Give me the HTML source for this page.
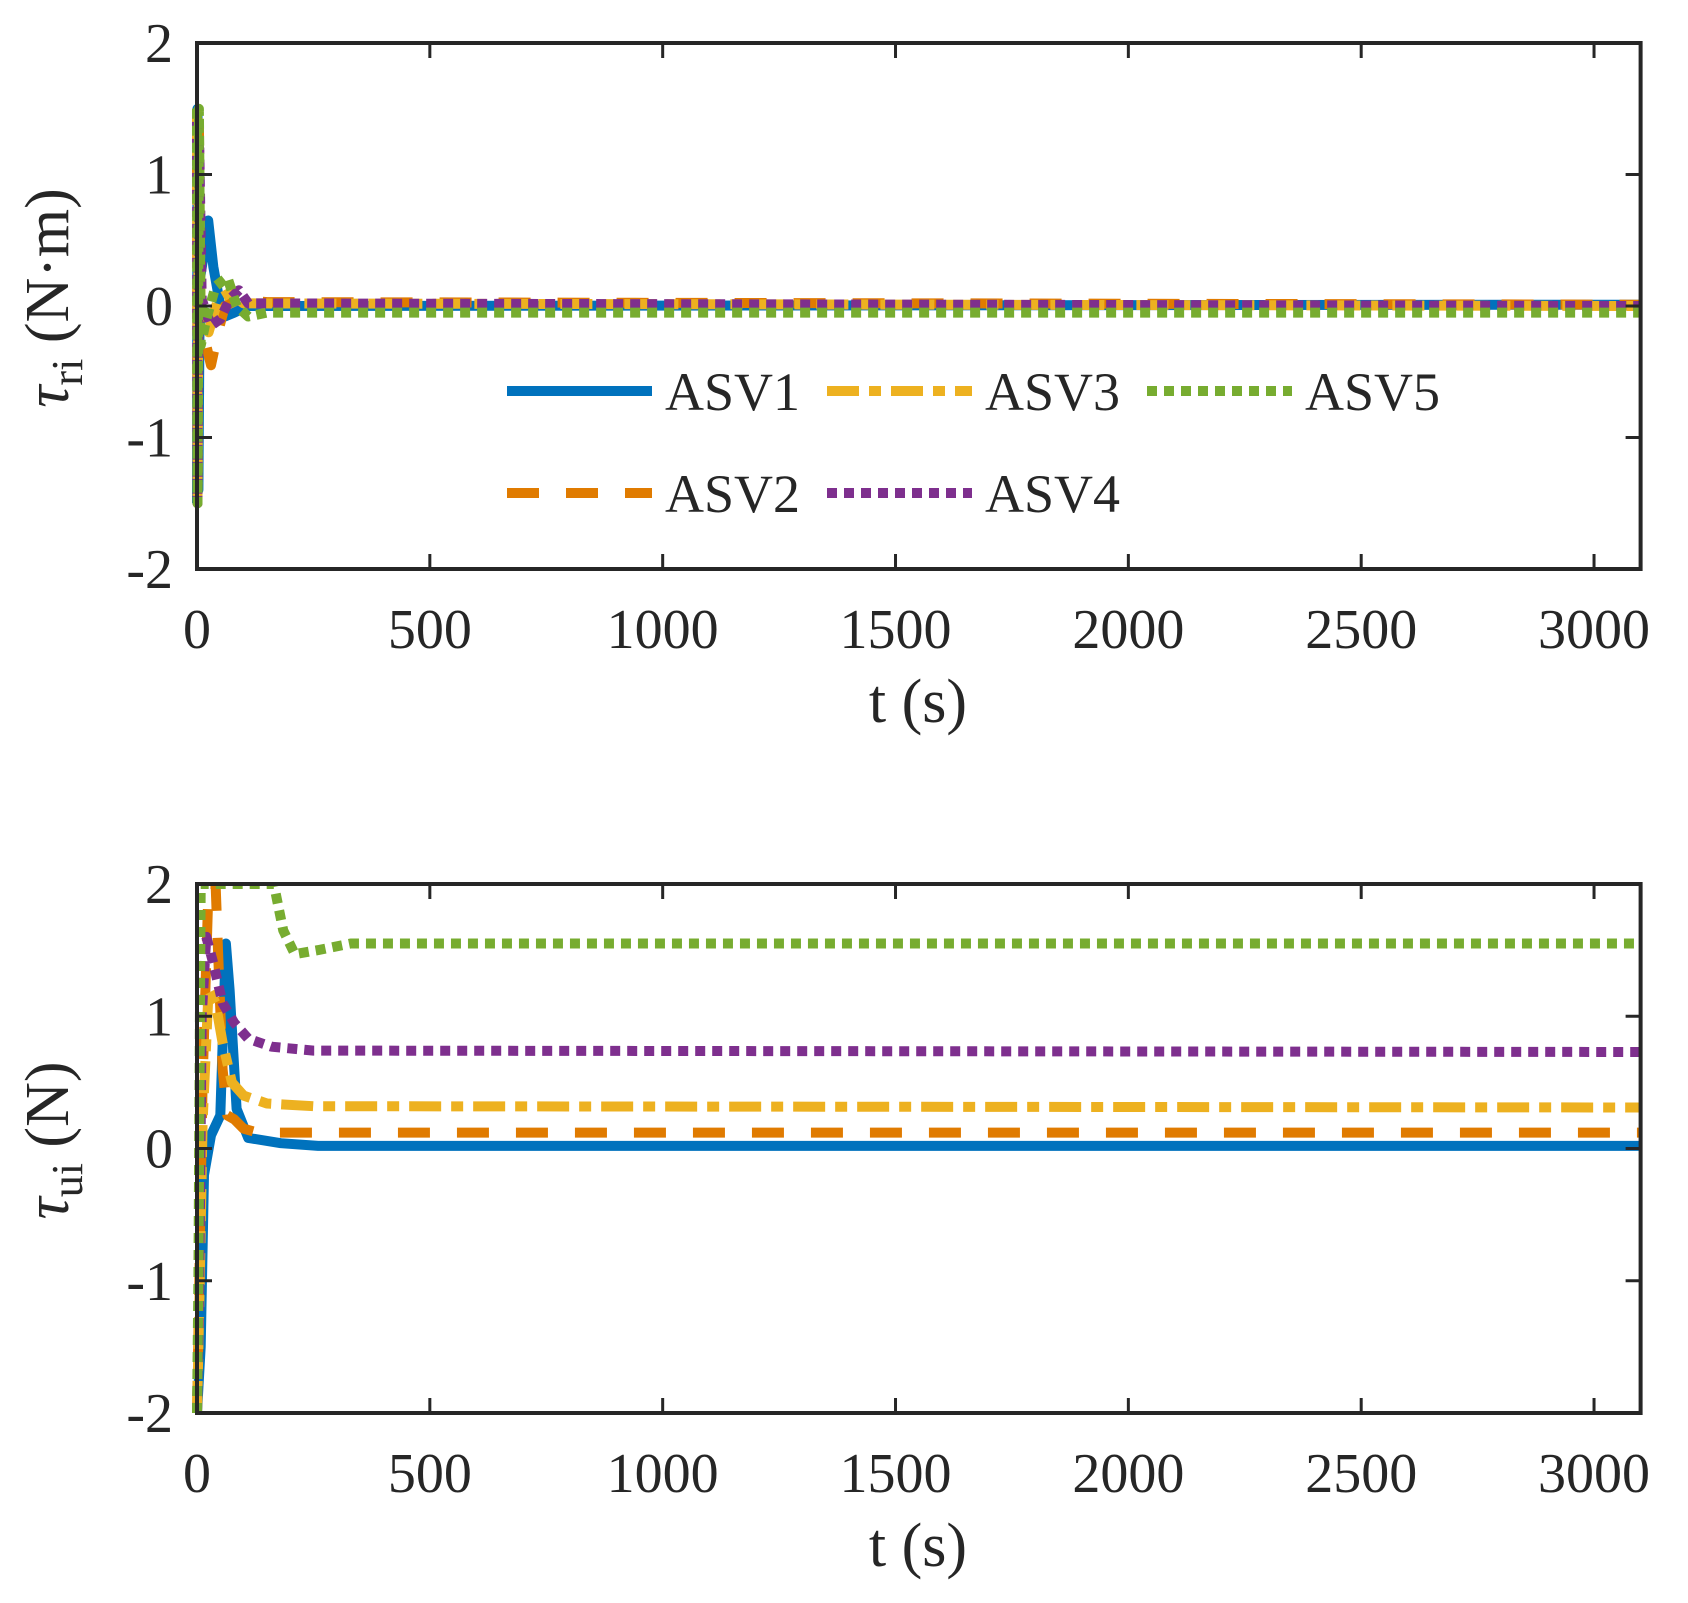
<!DOCTYPE html>
<html><head><meta charset="utf-8"><style>
html,body{margin:0;padding:0;background:#fff}
svg{display:block}
text{font-family:"Liberation Serif",serif;fill:#262626}
</style></head><body>
<svg id="chart" width="1688" height="1603" viewBox="0 0 1688 1603" xmlns="http://www.w3.org/2000/svg">
<defs>
<clipPath id="c1"><rect x="180" y="43" width="1460" height="526"/></clipPath>
<clipPath id="c2"><rect x="180" y="884" width="1460" height="529"/></clipPath>
</defs>
<g id="top"></g>
<g id="bot"></g>
</svg>
<script>
const xTicks = [0,500,1000,1500,2000,2500,3000];
const yTicks = [-2,-1,0,1,2];
const seriesNames = ["ASV1","ASV2","ASV3","ASV4","ASV5"];
// top panel (tau_r) data: [t, value]
const topASV1 = [[0,-1.5],[1,1.5],[3,-1.4],[6,0.2],[15,0.4],[24,0.65],[35,0.3],[50,0.0],[60,-0.08],[80,-0.05],[110,0],[3100,0.01]];
const topASV2 = [[0,1.5],[1,-1.5],[4,1.4],[8,-0.2],[20,-0.3],[30,-0.45],[45,-0.2],[60,0],[90,0.05],[150,0.03],[3100,0.01]];
const topASV3 = [[0,1.5],[1,-1.5],[4,1.3],[8,-0.1],[25,-0.2],[45,0.05],[70,0.1],[100,0.02],[3100,0.0]];
const topASV4 = [[0,1.4],[1,-1.5],[5,1.2],[10,0.05],[30,-0.15],[50,-0.1],[70,0.05],[90,0.12],[110,0.02],[3100,0.0]];
const topASV5 = [[0,1.5],[1,-1.5],[4,1.5],[8,-0.3],[20,-0.1],[40,0.15],[65,0.22],[85,0.0],[110,-0.08],[150,-0.05],[3100,-0.05]];
// bottom panel (tau_u) data
const botASV1 = [[0,-2],[8,-1.5],[15,-0.2],[30,0.1],[50,0.25],[62,1.55],[70,1.2],[85,0.3],[110,0.08],[180,0.04],[260,0.02],[3100,0.02]];
const botASV2 = [[0,-2],[5,-1],[12,0.5],[25,2],[40,2],[45,1.5],[55,0.6],[65,0.25],[80,0.22],[100,0.15],[130,0.12],[3100,0.12]];
const botASV3 = [[0,-2],[6,-1],[12,0.2],[25,1.2],[40,1.1],[55,0.8],[75,0.5],[100,0.4],[150,0.34],[250,0.32],[3100,0.31]];
const botASV4 = [[0,-2],[5,-1],[10,1.0],[20,1.6],[35,1.4],[55,1.1],[80,0.95],[110,0.83],[160,0.77],[250,0.74],[3100,0.73]];
const botASV5 = [[0,-2],[3,-1],[8,2],[165,2],[185,1.65],[210,1.47],[260,1.5],[330,1.55],[3100,1.55]];

const colors = ["#0072BD","#D95319","#EDB120","#7E2F8E","#77AC30"];
const colorsFix = ["#0072bd","#e07b00","#edb120","#7e2f8e","#77ac30"];
const dashes = [null,"32 27","32 10 12 10","10 7","10 7"];
const NS = "http://www.w3.org/2000/svg";
const X0=197, X1=1640.6, XMAX=3100;
function sx(t){return X0+(X1-X0)*t/XMAX;}
function mk(tag,attrs,parent){const e=document.createElementNS(NS,tag);for(const k in attrs)e.setAttribute(k,attrs[k]);parent.appendChild(e);return e;}

function panel(g, top, bottom, data, clip, ylabelMain, ylabelSub, ylabelRest, prefix){
  const sy = v => bottom-(bottom-top)*(v+2)/4;
  // series
  const sg = mk("g",{"clip-path":"url(#"+clip+")"},g);
  data.forEach((d,i)=>{
    const p = mk("polyline",{points:d.map(q=>sx(q[0]).toFixed(1)+","+sy(q[1]).toFixed(1)).join(" "),fill:"none",stroke:colorsFix[i],"stroke-width":10,"stroke-linejoin":"round"},sg);
    if(dashes[i]) p.setAttribute("stroke-dasharray",dashes[i]);
    
    
  });
  // axes box
  const box = mk("rect",{x:X0,y:top,width:X1-X0,height:bottom-top,fill:"none",stroke:"#262626","stroke-width":4},g);
  
  
  xTicks.forEach(t=>{
    const x=sx(t);
    mk("line",{x1:x,y1:bottom,x2:x,y2:bottom-15,stroke:"#262626","stroke-width":3},g);
    mk("line",{x1:x,y1:top,x2:x,y2:top+15,stroke:"#262626","stroke-width":3},g);
    const tx=mk("text",{x:x,y:bottom+79,"font-size":56,"text-anchor":"middle"},g);
    tx.textContent=t;
    
    
  });
  yTicks.forEach(v=>{
    const y=sy(v);
    mk("line",{x1:X0,y1:y,x2:X0+15,y2:y,stroke:"#262626","stroke-width":3},g);
    mk("line",{x1:X1,y1:y,x2:X1-15,y2:y,stroke:"#262626","stroke-width":3},g);
    const tx=mk("text",{x:173,y:y+19,"font-size":56,"text-anchor":"end"},g);
    tx.textContent=v;
    
    
  });
  const xl=mk("text",{x:918,y:bottom+153,"font-size":62,"text-anchor":"middle"},g);
  xl.textContent="t (s)";
  
  
  const cy=(top+bottom)/2;
  const yl=mk("text",{x:0,y:0,"font-size":62,"text-anchor":"middle",transform:"translate(68,"+(cy-8)+") rotate(-90)"},g);
  
  
  const a=document.createElementNS(NS,"tspan");a.setAttribute("font-style","italic");a.textContent=ylabelMain;yl.appendChild(a);
  const b=document.createElementNS(NS,"tspan");b.setAttribute("font-size","44");b.setAttribute("dy","14");b.textContent=ylabelSub;yl.appendChild(b);
  const c=document.createElementNS(NS,"tspan");c.setAttribute("dy","-14");c.textContent=ylabelRest;yl.appendChild(c);
}

panel(document.getElementById("top"),43,569,[topASV1,topASV2,topASV3,topASV4,topASV5],"c1","τ","ri"," (N·m)","top");
panel(document.getElementById("bot"),884,1413,[botASV1,botASV2,botASV3,botASV4,botASV5],"c2","τ","ui"," (N)","bottom");

// legend
const lg=mk("g",{},document.getElementById("top"));


const legX=[507,507,827,827,1147], legY=[391,493,391,493,391];
seriesNames.forEach((n,i)=>{
  const e=mk("g",{},lg);
  
  
  const l=mk("line",{x1:legX[i],y1:legY[i],x2:legX[i]+145,y2:legY[i],stroke:colorsFix[i],"stroke-width":10},e);
  if(dashes[i]) l.setAttribute("stroke-dasharray",dashes[i]);
  const t=mk("text",{x:legX[i]+158,y:legY[i]+19,"font-size":54,fill:"#000"},e);
  t.textContent=n;
});
</script>
</body></html>
